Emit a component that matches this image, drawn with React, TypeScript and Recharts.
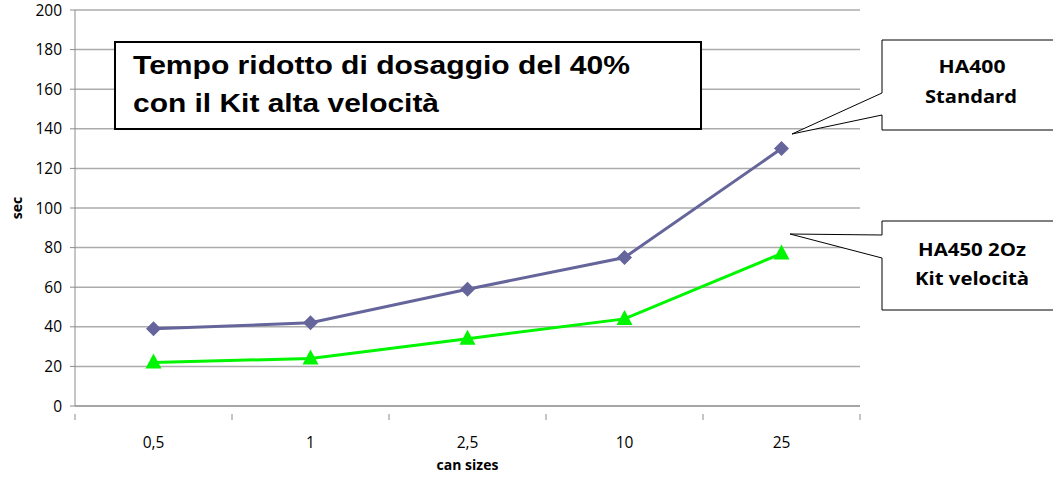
import { LineChart, Line, XAxis, YAxis, CartesianGrid } from 'recharts';

const W = 1053;
const H = 479;
const MARGIN = { top: 10, right: 193, bottom: 0, left: 0 };
const Y_AXIS_W = 75;
const X_AXIS_H = 73;

const canSizes = ['0,5', '1', '2,5', '10', '25'];
const ha400Standard = [39, 42, 59, 75, 130];
const ha450Kit = [22, 24, 34, 44, 77];
const yTicks = [0, 20, 40, 60, 80, 100, 120, 140, 160, 180, 200];

const chartData = canSizes.map((size, i) => ({
  size,
  standard: ha400Standard[i],
  kit: ha450Kit[i],
}));

const BLUE = '#65659B';
const GREEN = '#00F500';
const GRID = '#ABABAB';
const AXIS = '#8C8C8C';
const LABEL_FONT = '"Open Sans", Lato, sans-serif';
const TITLE_FONT = '"Liberation Sans", Arial, sans-serif';

const plotW = W - MARGIN.left - MARGIN.right - Y_AXIS_W;
const band = plotW / canSizes.length;

function Diamond(props: any) {
  const { cx, cy } = props;
  const r = 7.5;
  return (
    <path
      d={`M${cx},${cy - r} L${cx + r},${cy} L${cx},${cy + r} L${cx - r},${cy} Z`}
      fill={BLUE}
    />
  );
}

function Triangle(props: any) {
  const { cx, cy } = props;
  return (
    <path
      d={`M${cx},${cy - 9} L${cx + 8},${cy + 6} L${cx - 8},${cy + 6} Z`}
      fill={GREEN}
    />
  );
}

function CategoryTick(props: any) {
  const { x, y, payload, index } = props;
  const i = index ?? payload?.index ?? 0;
  return (
    <g>
      <line x1={x + band / 2} x2={x + band / 2} y1={y} y2={y + 6} stroke={AXIS} />
      {i === 0 && <line x1={x - band / 2} x2={x - band / 2} y1={y} y2={y + 6} stroke={AXIS} />}
      <text x={x} y={y + 34} textAnchor="middle" fontSize={15.5} fontFamily={LABEL_FONT} fill="#000">
        {payload.value}
      </text>
    </g>
  );
}

function Annotations() {
  return (
    <svg
      width={W}
      height={H}
      style={{ position: 'absolute', left: 0, top: 0, pointerEvents: 'none' }}
    >
      {/* title box */}
      <rect x={115} y={42} width={586} height={87} fill="#fff" stroke="#000" strokeWidth={2} />
      <text
        x={133}
        y={74}
        textLength={497}
        lengthAdjust="spacingAndGlyphs"
        fontFamily={TITLE_FONT}
        fontWeight="bold"
        fontSize={25}
        fill="#000"
      >
        Tempo ridotto di dosaggio del 40%
      </text>
      <text
        x={133}
        y={112}
        textLength={306}
        lengthAdjust="spacingAndGlyphs"
        fontFamily={TITLE_FONT}
        fontWeight="bold"
        fontSize={25}
        fill="#000"
      >
        con il Kit alta velocità
      </text>

      {/* HA400 callout */}
      <path
        d="M882,93 L882,40 L1060,40 L1060,130 L882,130 L882,115 L792,134 Z"
        fill="#fff"
        stroke="#000"
        strokeWidth={1}
      />
      <text x={972} y={73} textAnchor="middle" textLength={67} lengthAdjust="spacingAndGlyphs"
        fontFamily={LABEL_FONT} fontWeight="bold" fontSize={18} fill="#000">HA400</text>
      <text x={971} y={103} textAnchor="middle" textLength={92} lengthAdjust="spacingAndGlyphs"
        fontFamily={LABEL_FONT} fontWeight="bold" fontSize={18} fill="#000">Standard</text>

      {/* HA450 callout */}
      <path
        d="M882,235 L882,221 L1060,221 L1060,310 L882,310 L882,258 L790,234 Z"
        fill="#fff"
        stroke="#000"
        strokeWidth={1}
      />
      <text x={972} y={256} textAnchor="middle" textLength={108} lengthAdjust="spacingAndGlyphs"
        fontFamily={LABEL_FONT} fontWeight="bold" fontSize={18} fill="#000">HA450 2Oz</text>
      <text x={972} y={285} textAnchor="middle" textLength={114} lengthAdjust="spacingAndGlyphs"
        fontFamily={LABEL_FONT} fontWeight="bold" fontSize={18} fill="#000">Kit velocità</text>
    </svg>
  );
}

export default function App() {
  return (
    <div style={{ position: 'absolute', left: 0, top: 0, width: W, height: H, background: '#fff', overflow: 'hidden' }}>
      <LineChart width={W} height={H} data={chartData} margin={MARGIN}>
        <CartesianGrid vertical={false} stroke={GRID} strokeWidth={1.5} />
        <XAxis
          dataKey="size"
          height={X_AXIS_H}
          stroke={AXIS}
          tickLine={false}
          tick={<CategoryTick />}
          interval={0}
          padding={{ left: band / 2, right: band / 2 }}
          label={(p: any) => {
            const vb = p.viewBox || {};
            return (
              <text
                x={vb.x + vb.width / 2}
                y={470}
                textAnchor="middle"
                fontSize={14}
                fontWeight="bold"
                fontFamily={LABEL_FONT}
                fill="#000"
              >
                can sizes
              </text>
            );
          }}
        />
        <YAxis
          width={Y_AXIS_W}
          domain={[0, 200]}
          ticks={yTicks}
          interval={0}
          stroke={AXIS}
          tickSize={5}
          tickMargin={8}
          tick={{ fontSize: 15.5, fontFamily: LABEL_FONT, fill: '#000' }}
          label={(p: any) => {
            const vb = p.viewBox || {};
            const cy = vb.y + vb.height / 2;
            return (
              <text
                x={18}
                y={cy}
                transform={`rotate(-90, 18, ${cy})`}
                textAnchor="middle"
                dominantBaseline="middle"
                fontSize={14}
                fontWeight="bold"
                fontFamily={LABEL_FONT}
                fill="#000"
              >
                sec
              </text>
            );
          }}
        />
        <Line
          dataKey="standard"
          stroke={BLUE}
          strokeWidth={3}
          dot={(p: any) => <Diamond key={`d-${p.index}`} {...p} />}
          activeDot={false}
          isAnimationActive={false}
        />
        <Line
          dataKey="kit"
          stroke={GREEN}
          strokeWidth={3}
          dot={(p: any) => <Triangle key={`t-${p.index}`} {...p} />}
          activeDot={false}
          isAnimationActive={false}
        />
      </LineChart>
      <Annotations />
    </div>
  );
}
